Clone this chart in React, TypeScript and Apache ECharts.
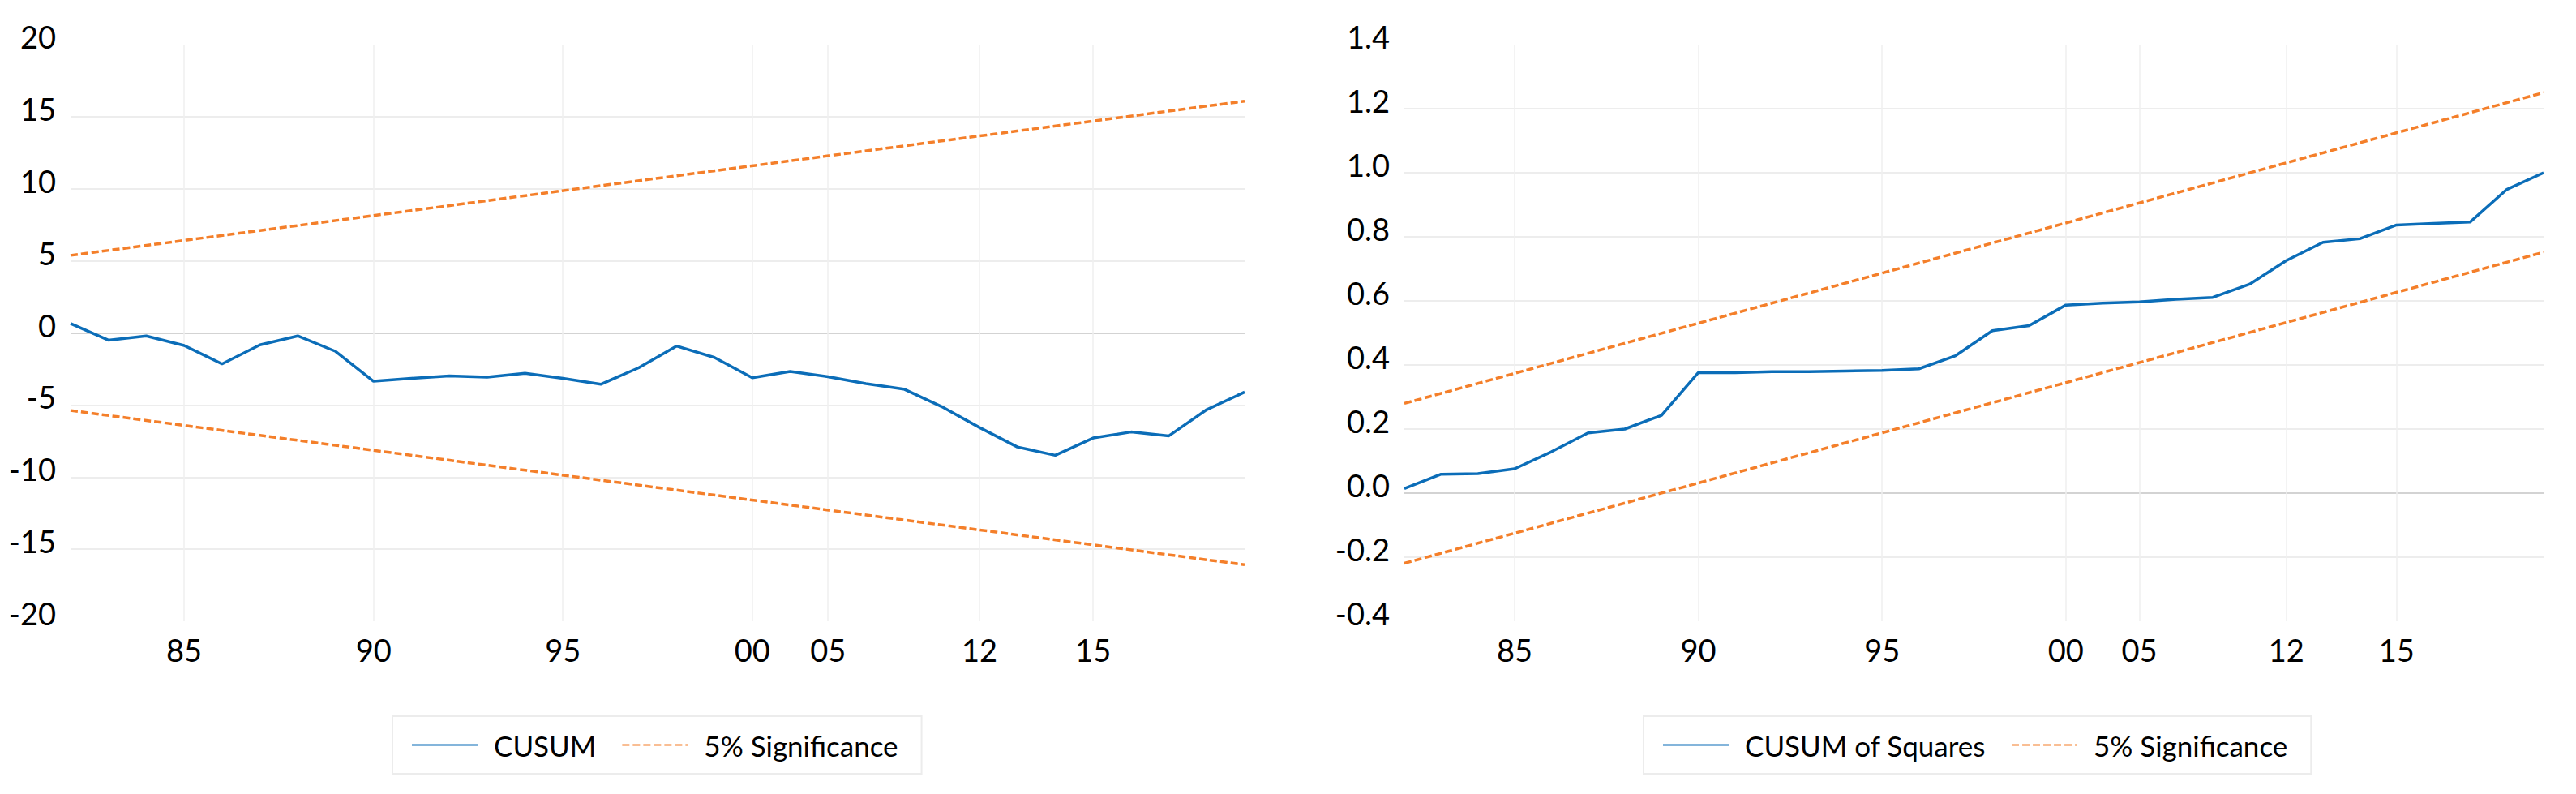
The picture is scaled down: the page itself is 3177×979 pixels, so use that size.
import React, { useEffect, useRef } from "react";
import * as echarts from "echarts";

// Observation labels (irregular dated sample)
const years = [
  "1982", "1983", "1984", "1985", "1986", "1987", "1988", "1989", "1990", "1991",
  "1992", "1993", "1994", "1995", "1996", "1997", "1998", "1999", "2000", "2002",
  "2005", "2007", "2009", "2011", "2012", "2013", "2014", "2015", "2016", "2017",
  "2018", "2019",
];
const labeledYears = ["1985", "1990", "1995", "2000", "2005", "2012", "2015"];

// CUSUM test
const cusum = [
  0.65, -0.5, -0.21, -0.87, -2.15, -0.83, -0.21, -1.28, -3.35, -3.15,
  -2.98, -3.06, -2.8, -3.15, -3.56, -2.42, -0.91, -1.7, -3.11, -2.67,
  -3.04, -3.52, -3.89, -5.11, -6.56, -7.91, -8.49, -7.29, -6.87, -7.14,
  -5.32, -4.1,
];
const cusumUpperEnds = [5.38, 16.08];
const cusumLowerEnds = [-5.38, -16.08];
const cusumTicks = [-20, 20, 5];

// CUSUM of squares test
const cusumSq = [
  0.014, 0.059, 0.061, 0.076, 0.129, 0.188, 0.2, 0.243, 0.376, 0.376,
  0.379, 0.379, 0.381, 0.383, 0.388, 0.429, 0.507, 0.523, 0.587, 0.593,
  0.597, 0.605, 0.611, 0.652, 0.726, 0.783, 0.794, 0.837, 0.842, 0.846,
  0.948, 1.0,
];
const sqUpperEnds = [0.28, 1.25];
const sqLowerEnds = [-0.219, 0.752];
const sqTicks = [-0.4, 1.4, 0.2];

const BLUE = "#0b6db8";
const ORANGE = "#f47f2a";
const FONT = "Lato";

const endsToData = (ends: number[]) =>
  years.map((_, i) => (i === 0 ? ends[0] : i === years.length - 1 ? ends[1] : null));

const isLabeled = (i: number) => labeledYears.indexOf(years[i]) >= 0;

export default function App() {
  const ref = useRef<HTMLDivElement>(null);

  useEffect(() => {
    if (!ref.current) return;
    const chart = echarts.init(ref.current, undefined, { renderer: "svg" });

    const light = "#ededed";
    const zero = "#d3d3d3";
    const leftSplitColors = ["rgba(0,0,0,0)", light, light, light, zero, light, light, light, "rgba(0,0,0,0)"];
    const rightSplitColors = ["rgba(0,0,0,0)", light, zero, light, light, light, light, light, light, "rgba(0,0,0,0)"];

    const xAxis = [0, 1].map((g) => ({
      type: "category",
      gridIndex: g,
      data: years,
      boundaryGap: false,
      axisLine: { show: false },
      axisTick: { show: false, interval: (i: number) => isLabeled(i) },
      axisLabel: {
        interval: (i: number) => isLabeled(i),
        formatter: (v: string) => v.slice(2),
        fontSize: 38,
        fontFamily: FONT,
        color: "#000",
        margin: 16,
      },
      splitLine: {
        show: true,
        interval: (i: number) => isLabeled(i),
        lineStyle: { color: "#efefef", width: 1.5 },
      },
    }));

    const yBase = {
      type: "value",
      axisLine: { show: false },
      axisTick: { show: false },
      axisLabel: {
        fontSize: 38,
        fontFamily: FONT,
        color: "#000",
        margin: 18,
        verticalAlign: "bottom",
        lineHeight: 20,
      },
    };

    const dashed = { color: ORANGE, width: 3.5, type: [9, 4] };

    const legendBase = {
      top: 883,
      padding: [18, 29, 18, 23],
      borderColor: "#ececec",
      borderWidth: 2,
      itemWidth: 81,
      itemHeight: 14,
      itemGap: 31,
      itemStyle: { opacity: 0 },
      textStyle: { fontSize: 35, fontFamily: FONT, color: "#000", padding: [0, 0, 0, 15] },
    };

    const option = {
      animation: false,
      backgroundColor: "#fff",
      grid: [
        { left: 87, top: 55, width: 1448, height: 711 },
        { left: 1732, top: 55, width: 1405, height: 711 },
      ],
      xAxis,
      yAxis: [
        {
          ...yBase,
          gridIndex: 0,
          min: cusumTicks[0],
          max: cusumTicks[1],
          interval: cusumTicks[2],
          splitLine: { show: true, lineStyle: { color: leftSplitColors, width: 2 } },
        },
        {
          ...yBase,
          gridIndex: 1,
          min: sqTicks[0],
          max: sqTicks[1],
          interval: sqTicks[2],
          axisLabel: { ...yBase.axisLabel, formatter: (v: number) => v.toFixed(1) },
          splitLine: { show: true, lineStyle: { color: rightSplitColors, width: 2 } },
        },
      ],
      legend: [
        { ...legendBase, data: ["CUSUM", "5% Significance"], left: 484 },
        { ...legendBase, data: ["CUSUM of Squares", "5% Significance"], left: 2027 },
      ],
      series: [
        {
          name: "CUSUM",
          type: "line",
          xAxisIndex: 0,
          yAxisIndex: 0,
          data: cusum,
          symbol: "none",
          lineStyle: { color: BLUE, width: 3.5 },
          itemStyle: { color: BLUE },
        },
        {
          name: "5% Significance",
          type: "line",
          xAxisIndex: 0,
          yAxisIndex: 0,
          data: endsToData(cusumUpperEnds),
          connectNulls: true,
          symbol: "none",
          lineStyle: dashed,
          itemStyle: { color: ORANGE },
        },
        {
          name: "5% Significance",
          type: "line",
          xAxisIndex: 0,
          yAxisIndex: 0,
          data: endsToData(cusumLowerEnds),
          connectNulls: true,
          symbol: "none",
          lineStyle: dashed,
          itemStyle: { color: ORANGE },
        },
        {
          name: "CUSUM of Squares",
          type: "line",
          xAxisIndex: 1,
          yAxisIndex: 1,
          data: cusumSq,
          symbol: "none",
          lineStyle: { color: BLUE, width: 3.5 },
          itemStyle: { color: BLUE },
        },
        {
          name: "5% Significance",
          type: "line",
          xAxisIndex: 1,
          yAxisIndex: 1,
          data: endsToData(sqUpperEnds),
          connectNulls: true,
          symbol: "none",
          lineStyle: dashed,
          itemStyle: { color: ORANGE },
        },
        {
          name: "5% Significance",
          type: "line",
          xAxisIndex: 1,
          yAxisIndex: 1,
          data: endsToData(sqLowerEnds),
          connectNulls: true,
          symbol: "none",
          lineStyle: dashed,
          itemStyle: { color: ORANGE },
        },
      ],
    };

    chart.setOption(option as any);
    return () => chart.dispose();
  }, []);

  return (
    <div
      ref={ref}
      style={{ position: "fixed", left: 0, top: 0, width: 3177, height: 979, background: "#fff" }}
    />
  );
}
